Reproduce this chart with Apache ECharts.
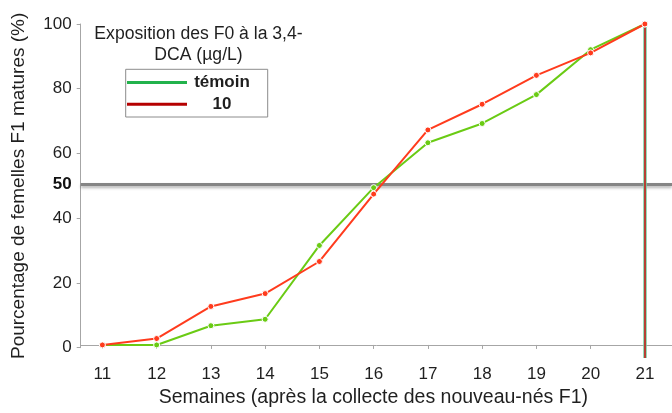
<!DOCTYPE html>
<html>
<head>
<meta charset="utf-8">
<script src="https://cdn.jsdelivr.net/npm/echarts@6/dist/echarts.min.js"></script>
<style>
  html, body { margin: 0; padding: 0; background: #fff; }
  #chart { width: 672px; height: 413px; }
</style>
</head>
<body>
<div id="chart"></div>
<script>
// Weeks after collection of F1 neonates
const weeks = [11, 12, 13, 14, 15, 16, 17, 18, 19, 20, 21];
// Cumulative % of mature F1 females
const temoin = [0, 0, 6, 8, 31, 49, 63, 69, 78, 92, 100];
const dca10 = [0, 2, 12, 16, 26, 47, 67, 75, 84, 91, 100];
const yTicks = [0, 20, 40, 60, 80, 100];
const threshold = 50;
const seriesNames = ['témoin', '10'];

const FONT = "'Liberation Sans', Arial, sans-serif";
const AXIS_GREY = '#a6a6a6';
const TEXT = '#1f1f1f';

const pairs = arr => weeks.map((w, i) => [w, arr[i]]);
const xMin = 10.6, xMax = 21.5;
const yLow = -4.1;

const chart = echarts.init(document.getElementById('chart'), null, { renderer: 'canvas' });

chart.setOption({
  animation: false,
  backgroundColor: '#fff',
  textStyle: { fontFamily: FONT },
  grid: [
    // y axis frame: 0..100
    { left: 80.7, right: 0, top: 24, bottom: 65.3 },
    // plotting frame, reaching down to the week axis line
    { left: 80.7, right: 0, top: 24, bottom: 52 }
  ],
  xAxis: [
    { gridIndex: 0, type: 'value', min: xMin, max: xMax, show: false },
    {
      gridIndex: 1, type: 'value', min: xMin, max: xMax,
      name: 'Semaines (après la collecte des nouveau-nés F1)',
      nameLocation: 'middle', nameGap: 29,
      nameTextStyle: { fontSize: 19.5, color: TEXT, fontFamily: FONT, padding: [0, 0, 0, -6] },
      axisLine: { show: true, lineStyle: { color: AXIS_GREY, width: 1 } },
      axisTick: { show: true, length: 4, lineStyle: { color: AXIS_GREY }, customValues: weeks },
      axisLabel: { fontSize: 17, color: TEXT, margin: 8, fontFamily: FONT, customValues: weeks },
      splitLine: { show: false }
    }
  ],
  yAxis: [
    {
      gridIndex: 0, type: 'value', min: yTicks[0], max: yTicks[yTicks.length - 1], interval: 20,
      name: 'Pourcentage de femelles F1 matures (%)',
      nameLocation: 'middle', nameGap: 52,
      nameTextStyle: { fontSize: 19, color: TEXT, fontFamily: FONT },
      axisLine: { show: true, lineStyle: { color: AXIS_GREY, width: 1 } },
      axisTick: { show: true, length: 4, lineStyle: { color: AXIS_GREY } },
      axisLabel: { fontSize: 17, color: TEXT, margin: 9, fontFamily: FONT },
      splitLine: { show: false }
    },
    { gridIndex: 1, type: 'value', min: yLow, max: 100, show: false }
  ],
  graphic: [{
    type: 'text',
    x: 198.5, y: 24,
    style: {
      text: 'Exposition des F0 à la 3,4-\nDCA (µg/L)',
      font: '17.6px ' + FONT,
      fill: TEXT,
      textAlign: 'center',
      lineHeight: 20.5
    }
  }],
  legend: {
    orient: 'vertical',
    left: 125.7, top: 69.3,
    padding: [3.5, 15.7, 3, 1.3],
    itemGap: 2,
    borderColor: '#8c8c8c', borderWidth: 1,
    icon: 'rect', itemWidth: 60, itemHeight: 3,
    data: [
      { name: seriesNames[0], itemStyle: { color: '#22b24c', borderWidth: 0 } },
      { name: seriesNames[1], itemStyle: { color: '#b50000', borderWidth: 0 } }
    ],
    formatter: n => '{a|' + n + '}',
    textStyle: {
      rich: { a: { width: 60, height: 19.6, align: 'center', fontSize: 17, fontWeight: 'bold', color: TEXT, lineHeight: 19.6, fontFamily: FONT } }
    }
  },
  series: [
    {
      name: seriesNames[0], type: 'line', xAxisIndex: 1, yAxisIndex: 1,
      data: pairs(temoin),
      symbol: 'circle', symbolSize: 6, showAllSymbol: true,
      lineStyle: { color: '#6acb14', width: 2 },
      itemStyle: { color: '#6acb14', borderColor: '#fff', borderWidth: 1 },
      z: 3,
      markLine: {
        silent: true, symbol: ['none', 'none'], z: 1,
        data: [
          {
            yAxis: threshold,
            lineStyle: { color: '#858585', width: 3, type: 'solid', shadowColor: 'rgba(0,0,0,0.3)', shadowBlur: 3, shadowOffsetY: 2 },
            label: { show: true, position: 'start', formatter: String(threshold), distance: 9, fontSize: 17, fontWeight: 'bold', color: '#111', fontFamily: FONT }
          },
          {
            xAxis: weeks[weeks.length - 1],
            lineStyle: { color: '#72cfa2', width: 3.5, type: 'solid' },
            label: { show: false }
          }
        ]
      }
    },
    {
      name: seriesNames[1], type: 'line', xAxisIndex: 1, yAxisIndex: 1,
      data: pairs(dca10),
      symbol: 'circle', symbolSize: 6, showAllSymbol: true,
      lineStyle: { color: '#ff3b1d', width: 2 },
      itemStyle: { color: '#ff3b1d', borderColor: '#fff', borderWidth: 1 },
      z: 4,
      markLine: {
        silent: true, symbol: ['none', 'none'], z: 2,
        data: [
          {
            xAxis: weeks[weeks.length - 1],
            lineStyle: { color: '#cc1010', width: 1.5, type: 'solid' },
            label: { show: false }
          }
        ]
      }
    }
  ]
});
</script>
</body>
</html>
